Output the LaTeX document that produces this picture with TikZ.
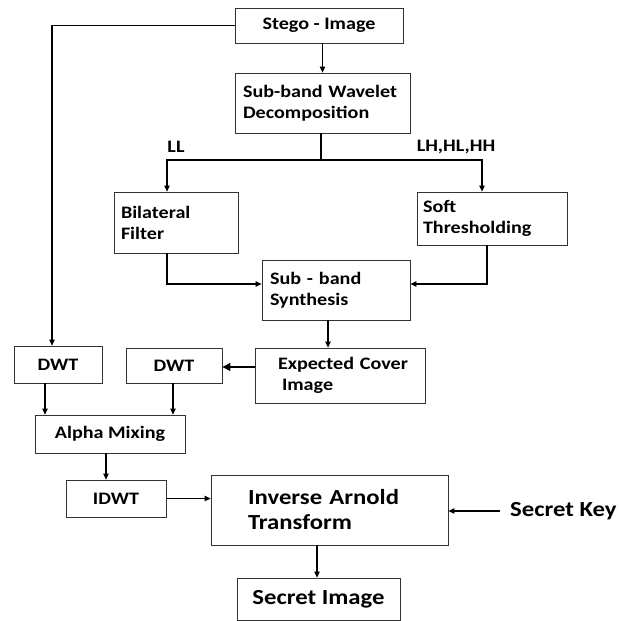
\documentclass[tikz,border=0pt]{standalone}
\usepackage{fontspec}
\setmainfont{Carlito}[FakeStretch=1.15]
\usetikzlibrary{arrows.meta,calc}
\begin{document}
\begin{tikzpicture}[x=1pt,y=-1pt,
  every node/.style={font=\bfseries\fontsize{17.5}{21}\selectfont},
  big/.style={font=\bfseries\fontsize{21.5}{25}\selectfont},
  box/.style={draw=black!80,line width=0.8pt,rectangle,inner xsep=0pt,inner ysep=0pt},
  lbox/.style={box,align=left},
  cbox/.style={box,align=center},
  conn/.style={line width=1.2pt,black},
  arr/.style={conn,-{Triangle[length=6pt,width=5.5pt]}},
  lbl/.style={inner sep=0pt}]
\useasboundingbox (0,0) rectangle (619,621);
\node[cbox,minimum width=168pt,minimum height=35pt] (stego) at (319,25.5) {Stego - Image};
\node[lbox,minimum width=175pt,minimum height=60pt,text width=159pt] (wav) at (322.5,103) {Sub-band Wavelet\\Decomposition};
\node[lbox,minimum width=124pt,minimum height=61pt,text width=110pt] (bil) at (176,222.5) {Bilateral\\Filter};
\node[lbox,minimum width=150pt,minimum height=53pt,text width=138pt] (soft) at (492,218.5) {Soft\\Thresholding};
\node[lbox,minimum width=148pt,minimum height=60pt,text width=132pt] (syn) at (336,290) {Sub - band\\Synthesis};
\node[lbox,minimum width=170pt,minimum height=55pt,text width=124pt] (exp) at (340,375.5) {\mbox{Expected Cover}\\\hspace*{4pt}Image};
\node[cbox,minimum width=88pt,minimum height=37pt] (dwt1) at (58,364.5) {DWT};
\node[cbox,minimum width=96pt,minimum height=35pt] (dwt2) at (174,365.5) {DWT};
\node[cbox,minimum width=150pt,minimum height=38pt] (alpha) at (110,434) {Alpha Mixing};
\node[cbox,minimum width=100pt,minimum height=37pt] (idwt) at (116,498.5) {IDWT};
\node[lbox,big,minimum width=237pt,minimum height=70pt,text width=163pt] (inv) at (329.5,510) {Inverse Arnold\\Transform};
\node[cbox,big,minimum width=163pt,minimum height=42pt] (secret) at (318.5,599) {Secret Image};
\node[lbl,big,anchor=west,inner xsep=0pt] (key) at (510,511) {Secret Key};
\coordinate (keyend) at (500,511);
\node[lbl] (ll) at (176,147) {LL};
\node[lbl] (lh) at (456,147) {LH,HL,HH};
\coordinate (split) at (321,160);
% connectors
\draw[arr] (stego.west) -| ([xshift=-6pt]dwt1.north);
\draw[arr] (wav.north |- stego.south) -- (wav.north);
\draw[conn] (wav.south -| split) -- (split);
\draw[arr] (split) -| ([xshift=-9pt]bil.north);
\draw[arr] (split) -| ([xshift=-10pt]soft.north);
\draw[arr] ([xshift=-9pt]bil.south) |- ([yshift=6pt]syn.west);
\draw[arr] ([xshift=-5pt]soft.south) |- ([yshift=6pt]syn.east);
\draw[arr] ([xshift=-8pt]syn.south) -- ([xshift=-8pt]syn.south |- exp.north);
\draw[conn,-{Triangle[length=8pt,width=8pt]}] ([yshift=8.5pt]exp.west) -- ([yshift=8.5pt]exp.west -| dwt2.east);
\draw[arr] ([xshift=-13pt]dwt1.south) -- ([xshift=-13pt]dwt1.south |- alpha.north);
\draw[arr] ([xshift=-1pt]dwt2.south) -- ([xshift=-1pt]dwt2.south |- alpha.north);
\draw[arr] ([xshift=-4pt]alpha.south) -- ([xshift=-4pt]alpha.south |- idwt.north);
\draw[arr] (idwt.east) -- (idwt.east -| inv.west);
\draw[arr] (keyend) -- (keyend -| inv.east);
\draw[arr] ([xshift=-12.5pt]inv.south) -- ([xshift=-12.5pt]inv.south |- secret.north);
\end{tikzpicture}
\end{document}
